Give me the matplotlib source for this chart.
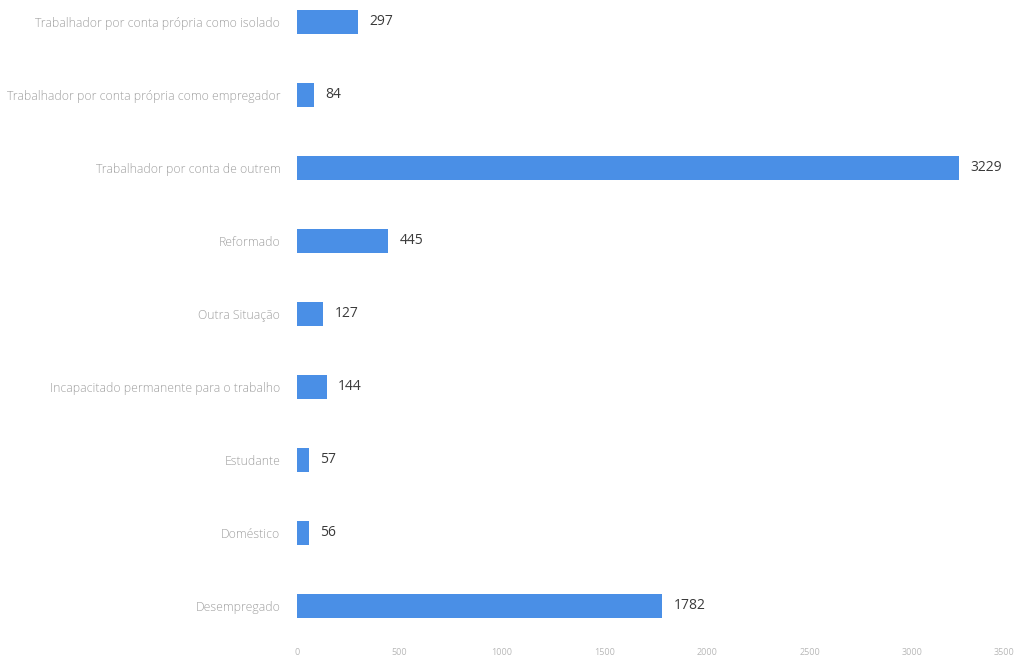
import matplotlib.pyplot as plt
import matplotlib as mpl

mpl.rc('font', **{'family': 'sans-serif', 'sans-serif': ['Open Sans', 'DejaVu Sans']})

# situacao profissional, de baixo para cima
categorias = ['Desempregado', 'Doméstico', 'Estudante',
              'Incapacitado permanente para o trabalho', 'Outra Situação',
              'Reformado', 'Trabalhador por conta de outrem',
              'Trabalhador por conta própria como empregador',
              'Trabalhador por conta própria como isolado']
valores = [1782, 56, 57, 144, 127, 445, 3229, 84, 297]
ticks_x = [0, 500, 1000, 1500, 2000, 2500, 3000, 3500]

barColor = '#4a8fe6'

fig = plt.figure(figsize=(10.26, 6.72), dpi=100)
ax = fig.add_axes([0.2895, 32/672., 0.6995, 640/672.])

y = list(range(len(categorias)))
ax.barh(y, valores, height=0.33, color=barColor)

for yi, v in zip(y, valores):
  ax.text(v + 55, yi, str(v), va='center', ha='left', fontsize=10, color='#3a3a3a')

ax.set_xlim(0, 3500)
ax.set_ylim(-0.47, 8.3)
ax.set_yticks(y)
ax.set_yticklabels(categorias, fontsize=8.8, color='#a0a0a0', fontweight='light')
ax.set_xticks(ticks_x)
ax.set_xticklabels([str(t) for t in ticks_x], fontsize=6.5, color='#b8b8b8')
# last tick label sits against the right edge
ax.get_xticklabels()[-1].set_ha('right')
ax.tick_params(axis='y', length=0, pad=12)
ax.tick_params(axis='x', length=0, pad=6)
for s in ax.spines.values():
  s.set_visible(False)

fig.savefig('out.png', dpi=100)
